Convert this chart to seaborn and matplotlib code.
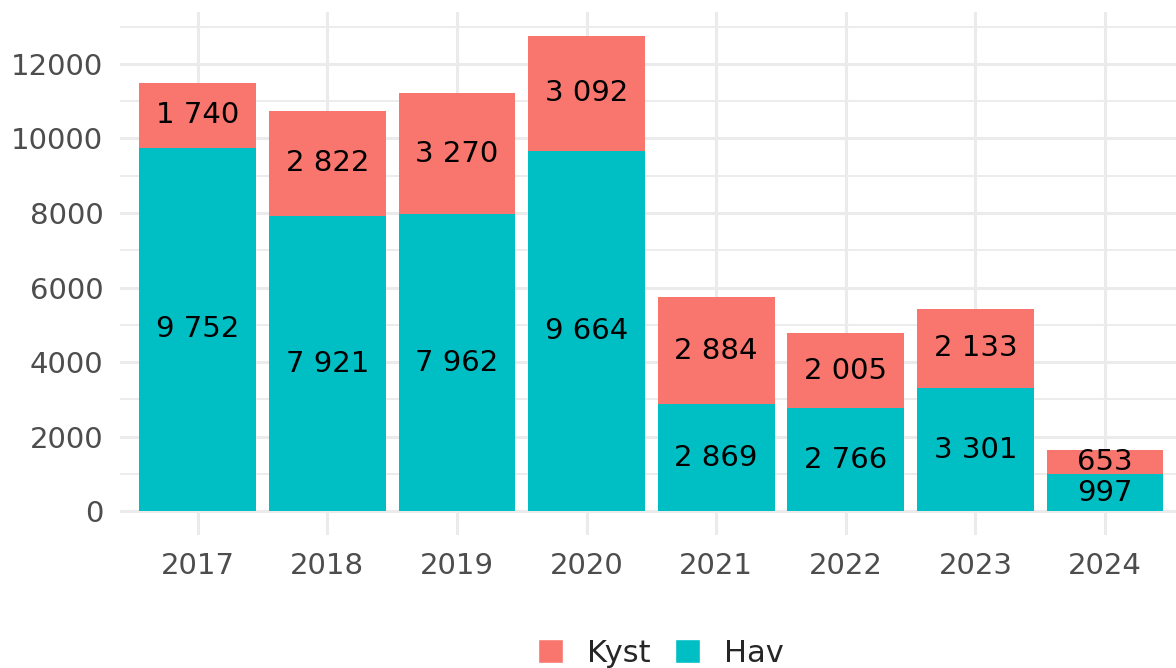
import pandas as pd
import matplotlib.pyplot as plt
import seaborn as sns
from matplotlib.patches import Patch
from matplotlib.ticker import MultipleLocator

# Data
years = ["2017", "2018", "2019", "2020", "2021", "2022", "2023", "2024"]
hav = [9752, 7921, 7962, 9664, 2869, 2766, 3301, 997]
kyst = [1740, 2822, 3270, 3092, 2884, 2005, 2133, 653]

col_kyst = "#F8766D"
col_hav = "#00BFC4"

df = pd.DataFrame({"year": years, "Hav": hav, "Kyst": kyst})
df["total"] = df["Hav"] + df["Kyst"]

sns.set_style("white")
plt.rcParams["font.family"] = ["DejaVu Sans"]

fig = plt.figure(figsize=(11.76, 6.68), dpi=100)
ax = fig.add_axes([120 / 1176, 1 - 535 / 668, 1 - 120 / 1176, (535 - 12) / 668])

# Stacked bars: total (Kyst on top) then Hav over it
sns.barplot(data=df, x="year", y="total", order=years, color=col_kyst,
            width=0.9, saturation=1, linewidth=0, ax=ax, zorder=3)
sns.barplot(data=df, x="year", y="Hav", order=years, color=col_hav,
            width=0.9, saturation=1, linewidth=0, ax=ax, zorder=3)

def fmt(v):
    return f"{v:,}".replace(",", " ")

for i, row in df.iterrows():
    ax.text(i, row["Hav"] / 2, fmt(row["Hav"]), ha="center", va="center",
            fontsize=21, color="black", zorder=4)
    ax.text(i, row["Hav"] + row["Kyst"] / 2, fmt(row["Kyst"]), ha="center",
            va="center", fontsize=21, color="black", zorder=4)

top = df["total"].max()
ax.set_ylim(-0.05 * top, 1.05 * top)
ax.set_xlim(-0.6, 7 + (1176 - 1105) / 129.6)

ax.yaxis.set_major_locator(MultipleLocator(2000))
ax.yaxis.set_minor_locator(MultipleLocator(1000))
ax.grid(True, which="major", color="#EBEBEB", linewidth=2.2, zorder=0)
ax.grid(True, which="minor", axis="y", color="#EBEBEB", linewidth=1.3, zorder=0)
ax.set_axisbelow(True)

for s in ax.spines.values():
    s.set_visible(False)
ax.tick_params(axis="both", which="both", length=0, labelsize=21,
               labelcolor="#4D4D4D", pad=12)
ax.set_xlabel("")
ax.set_ylabel("")

handles = [Patch(facecolor=col_kyst, label="Kyst"),
           Patch(facecolor=col_hav, label="Hav")]
fig.legend(handles=handles, loc="center", bbox_to_anchor=(661 / 1176, 1 - 653 / 668),
           ncol=2, frameon=False, fontsize=22, handlelength=0.8,
           handleheight=0.8, handletextpad=0.8, columnspacing=0.8,
           borderaxespad=0, borderpad=0)

plt.savefig("out.png", dpi=100)
